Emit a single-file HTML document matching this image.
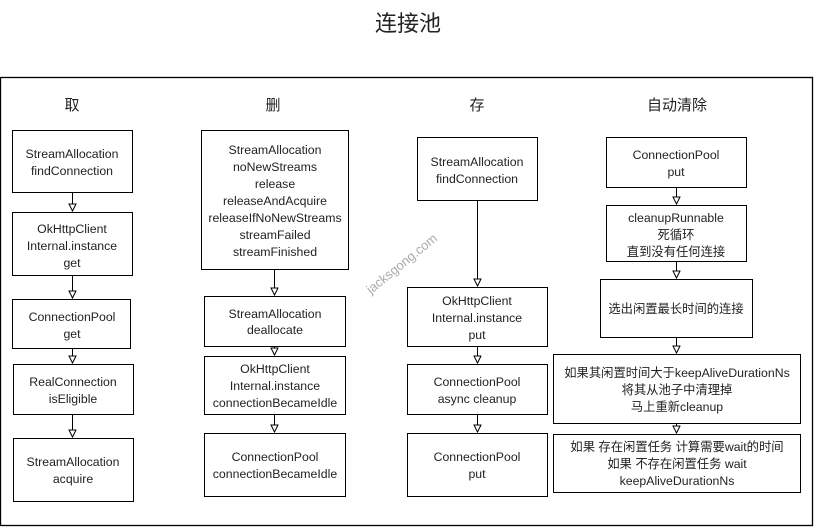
<!DOCTYPE html>
<html><head><meta charset="utf-8"><style>
html,body{margin:0;padding:0;background:#fff;width:816px;height:527px;overflow:hidden}
svg text{font-family:"Liberation Sans","Noto Sans CJK SC",sans-serif;fill:#222}
</style></head><body>
<svg width="816" height="527" viewBox="0 0 816 527" xmlns="http://www.w3.org/2000/svg">
<defs><marker id="a" markerWidth="10" markerHeight="10" refX="8" refY="4" orient="auto" markerUnits="userSpaceOnUse">
<path d="M1,0.5 L8,4 L1,7.5 Z" fill="#fff" stroke="#000" stroke-width="1"/></marker></defs>
<text x="408" y="31" font-size="22" text-anchor="middle">连接池</text>
<rect x="0.5" y="77.5" width="812" height="448" fill="none" stroke="#000" stroke-width="1.3"/>
<g font-size="15" text-anchor="middle">
<text x="72" y="110">取</text><text x="273" y="110">删</text><text x="477" y="110">存</text><text x="677" y="110">自动清除</text></g>
<g fill="#fff" stroke="#000" stroke-width="1">
<rect x="12.5" y="130.5" width="120" height="62"/>
<rect x="12.5" y="212.5" width="120" height="63"/>
<rect x="12.5" y="299.5" width="118" height="49"/>
<rect x="13.5" y="364.5" width="120" height="50"/>
<rect x="13.5" y="438.5" width="120" height="63"/>
<rect x="201.5" y="130.5" width="147" height="139"/>
<rect x="204.5" y="296.5" width="141" height="50"/>
<rect x="204.5" y="356.5" width="141" height="58"/>
<rect x="204.5" y="433.5" width="141" height="63"/>
<rect x="417.5" y="137.5" width="120" height="63"/>
<rect x="407.5" y="287.5" width="140" height="59"/>
<rect x="407.5" y="364.5" width="140" height="50"/>
<rect x="407.5" y="433.5" width="140" height="63"/>
<rect x="606.5" y="137.5" width="140" height="50"/>
<rect x="606.5" y="205.5" width="140" height="56"/>
<rect x="600.5" y="279.5" width="152" height="58"/>
<rect x="553.5" y="354.5" width="247" height="69"/>
<rect x="553.5" y="434.5" width="247" height="58"/>
</g>
<g stroke="#000" stroke-width="1" marker-end="url(#a)">
<line x1="72.5" y1="193" x2="72.5" y2="211"/>
<line x1="72.5" y1="276" x2="72.5" y2="298"/>
<line x1="72.5" y1="349" x2="72.5" y2="363"/>
<line x1="72.5" y1="415" x2="72.5" y2="437"/>
<line x1="274.5" y1="270" x2="274.5" y2="295"/>
<line x1="274.5" y1="347" x2="274.5" y2="355"/>
<line x1="274.5" y1="415" x2="274.5" y2="432"/>
<line x1="477.5" y1="201" x2="477.5" y2="286"/>
<line x1="477.5" y1="347" x2="477.5" y2="363"/>
<line x1="477.5" y1="415" x2="477.5" y2="432"/>
<line x1="676.5" y1="188" x2="676.5" y2="204"/>
<line x1="676.5" y1="262" x2="676.5" y2="278"/>
<line x1="676.5" y1="338" x2="676.5" y2="353"/>
<line x1="676.5" y1="424" x2="676.5" y2="433"/>
</g>
<g font-size="12.3" text-anchor="middle">
<text x="72" y="158">StreamAllocation</text><text x="72" y="175">findConnection</text>
<text x="72" y="233">OkHttpClient</text><text x="72" y="250">Internal.instance</text><text x="72" y="267">get</text>
<text x="72" y="321">ConnectionPool</text><text x="72" y="338">get</text>
<text x="73" y="386">RealConnection</text><text x="73" y="403">isEligible</text>
<text x="73" y="466">StreamAllocation</text><text x="73" y="483">acquire</text>
<text x="275" y="154">StreamAllocation</text><text x="275" y="171">noNewStreams</text><text x="275" y="188">release</text><text x="275" y="205">releaseAndAcquire</text><text x="275" y="222">releaseIfNoNewStreams</text><text x="275" y="239">streamFailed</text><text x="275" y="256">streamFinished</text>
<text x="275" y="318">StreamAllocation</text><text x="275" y="334">deallocate</text>
<text x="275" y="373">OkHttpClient</text><text x="275" y="390">Internal.instance</text><text x="275" y="407">connectionBecameIdle</text>
<text x="275" y="461">ConnectionPool</text><text x="275" y="478">connectionBecameIdle</text>
<text x="477" y="166">StreamAllocation</text><text x="477" y="183">findConnection</text>
<text x="477" y="305">OkHttpClient</text><text x="477" y="322">Internal.instance</text><text x="477" y="339">put</text>
<text x="477" y="386">ConnectionPool</text><text x="477" y="403">async cleanup</text>
<text x="477" y="461">ConnectionPool</text><text x="477" y="478">put</text>
<text x="676" y="159">ConnectionPool</text><text x="676" y="176">put</text>
<text x="676" y="222">cleanupRunnable</text><text x="676" y="239">死循环</text><text x="676" y="256">直到没有任何连接</text>
<text x="676" y="313">选出闲置最长时间的连接</text>
<text x="677" y="377">如果其闲置时间大于keepAliveDurationNs</text><text x="677" y="394">将其从池子中清理掉</text><text x="677" y="411">马上重新cleanup</text>
<text x="677" y="451">如果 存在闲置任务 计算需要wait的时间</text><text x="677" y="468">如果 不存在闲置任务 wait</text><text x="677" y="485">keepAliveDurationNs</text>
</g>
<text x="402" y="268" font-size="13" text-anchor="middle" transform="rotate(-39 402 264)" style="fill:#aaa">jacksgong.com</text>
</svg>
</body></html>
